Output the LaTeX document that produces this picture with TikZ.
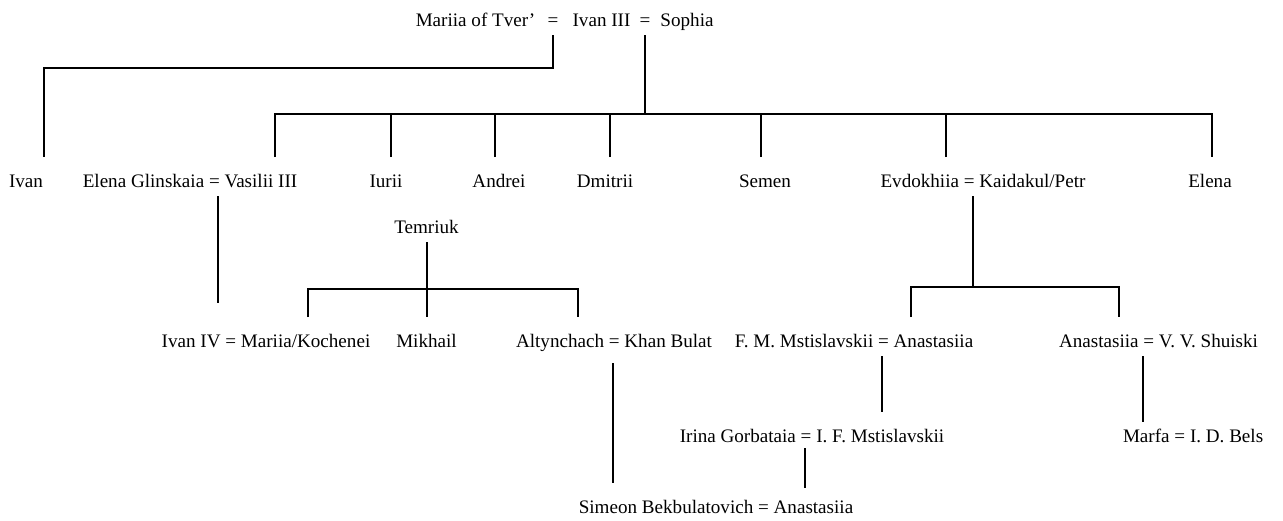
\documentclass[tikz,border=0pt]{standalone}
\usepackage{fontspec}
\setmainfont{Liberation Serif}
\usepackage{tikz}

\begin{document}
\begin{tikzpicture}[x=0.5pt,y=-0.5pt,line width=1pt,
    font=\fontsize{9.55}{11}\selectfont,
    pers/.style={anchor=base, inner sep=0pt, text height=14.5pt, text depth=4pt}]
  \useasboundingbox (0,0) rectangle (1283,520);
  % ---- Ivan III and his wives ----
  \node[pers] (mariia)  at (475.5,26) {Mariia of Tver'};
  \node[pers] (eqa)     at (553,26)   {=};
  \node[pers] (ivaniii) at (601.5,26) {Ivan III};
  \node[pers] (eqb)     at (645,26)   {=};
  \node[pers] (sophia)  at (687,26)   {Sophia};
  % ---- children ----
  \node[pers, anchor=base east] (ivan) at (44,187) {Ivan};
  \node[pers] (vasilii)   at (190,187)  {Elena Glinskaia = Vasilii III};
  \node[pers] (iurii)     at (386,187)  {Iurii};
  \node[pers] (andrei)    at (499,187)  {Andrei};
  \node[pers] (dmitrii)   at (605,187)  {Dmitrii};
  \node[pers] (semen)     at (765,187)  {Semen};
  \node[pers] (evdokhiia) at (983,187)  {Evdokhiia = Kaidakul/Petr};
  \node[pers] (elena)     at (1210,187) {Elena};
  \node[pers] (temriuk)   at (426.5,233) {Temriuk};
  % ---- grandchildren ----
  \node[pers] (ivaniv)  at (266,347)    {Ivan IV = Mariia/Kochenei};
  \node[pers] (mikhail) at (426.5,347)  {Mikhail};
  \node[pers] (altyn)   at (614,347)    {Altynchach = Khan Bulat};
  \node[pers] (fmm)     at (854,347)    {F. M. Mstislavskii = Anastasiia};
  \node[pers] (shuiski) at (1158.5,347) {Anastasiia = V. V. Shuiski};
  \node[pers] (irina)   at (812,442)    {Irina Gorbataia = I. F. Mstislavskii};
  \node[pers, anchor=base west] (marfa) at (1122,442) {Marfa = I. D. Bels};
  \node[pers] (simeon)  at (716,513)    {Simeon Bekbulatovich = Anastasiia};
  % ---- bars ----
  \coordinate (ivanbar) at (44,68);
  \coordinate (kids)    at (645,114);
  \coordinate (tembar)  at (426.5,289);
  \coordinate (evdbar)  at (973,287);
  % ---- lines of descent ----
  \draw (eqa.south) |- (ivanbar) -- (ivan.north east);
  \draw (eqb.south) -- (kids);
  \draw (vasilii.north -| 275,0) |- (kids) -| (elena.north -| 1212,0);
  \foreach \n/\x in {iurii/391,andrei/495,dmitrii/610,semen/761,evdokhiia/946}
    \draw (\n.north -| \x,0) -- (kids -| \x,0);
  \draw[shorten >=7pt] (vasilii.south -| 218,0) -- (ivaniv.north -| 218,0);
  \draw (temriuk.south) -- (mikhail.north);
  \draw (ivaniv.north -| 308,0) |- (tembar) -| (altyn.north -| 578,0);
  \draw[shorten <=3.5pt] (altyn.south -| 613,0) -- (simeon.north -| 613,0);
  \draw (evdokhiia.south -| 973,0) -- (evdbar);
  \draw (fmm.north -| 911,0) |- (evdbar) -| (shuiski.north -| 1119,0);
  \draw (fmm.south -| 882,0) -- (irina.north -| 882,0);
  \draw[shorten >=-5pt] (shuiski.south -| 1143,0) -- (marfa.north -| 1143,0);
  \draw[shorten <=-1.5pt, shorten >=-2.5pt] (irina.south -| 805,0) -- (simeon.north -| 805,0);
\end{tikzpicture}
\end{document}
